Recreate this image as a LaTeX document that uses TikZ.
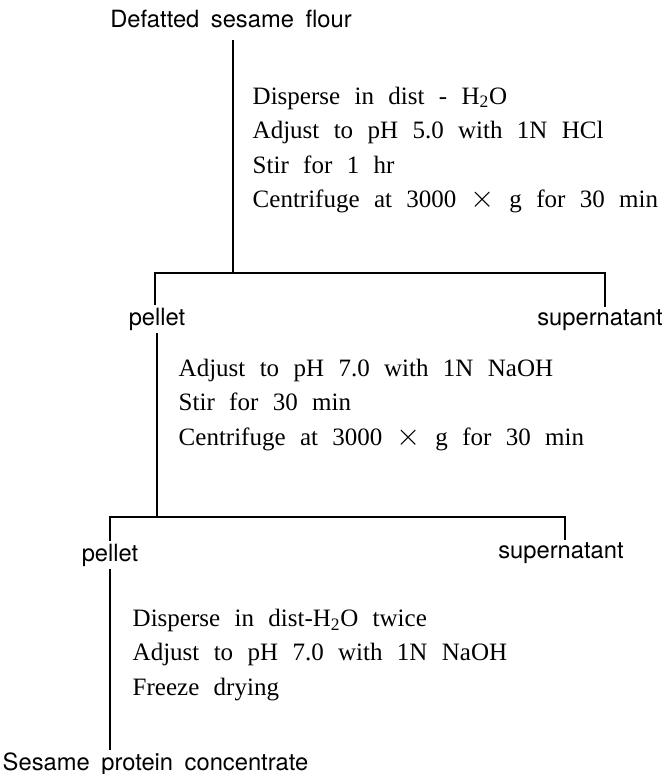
\documentclass[tikz,border=0pt]{standalone}
\usepackage{fontspec}
\setmainfont{Liberation Serif}[WordSpace=2.3]
\newfontfamily\labelfont{TeX Gyre Heros}[WordSpace=1.75]
\usepackage{tikz}
\usetikzlibrary{calc}

\begin{document}
\begin{tikzpicture}[x=0.75pt, y=-0.75pt, line width=1.1pt,
  lbl/.style={font=\labelfont\fontsize{17.8}{20}\selectfont, inner sep=1.5pt},
  steps/.style={font=\fontsize{18.75}{25.9}\selectfont, align=left, anchor=west, inner sep=0pt}]
  \useasboundingbox (0,0) rectangle (666,774);
  % first step
  \node[lbl] (flour) at (231,18.5) {Defatted sesame flour};
  \coordinate (top1) at (233,40);
  \coordinate (split1) at (233,273);
  \coordinate (left1) at (155,273);
  \coordinate (right1) at (605,273);
  \node[steps] (treat1) at (252,150) {Disperse in dist - H\textsubscript{2}O\\Adjust to pH 5.0 with 1N HCl\\Stir for 1 hr\\Centrifuge at 3000 \scalebox{1.35}{$\times$} g for 30 min};
  \node[lbl] (pellet1) at (157,319) {pellet};
  \node[lbl] (supern1) at (600,320) {supernatant};
  \draw (top1) -- (split1);
  \draw (pellet1.north -| left1) -- (left1) -- (right1) -- (supern1.north -| right1);
  % second step
  \coordinate (split2) at (157,517);
  \coordinate (left2) at (110,517);
  \coordinate (right2) at (565,517);
  \node[steps] (treat2) at (178,405) {Adjust to pH 7.0 with 1N NaOH\\Stir for 30 min\\Centrifuge at 3000 \scalebox{1.35}{$\times$} g for 30 min};
  \node[lbl] (pellet2) at (110,555) {pellet};
  \node[lbl] (supern2) at (561,553) {supernatant};
  \draw (pellet1.south) -- (split2);
  \draw (pellet2.north -| left2) -- (left2) -- (right2) -- (supern2.north -| right2);
  % last step
  \node[steps] (treat3) at (132,655) {Disperse in dist-H\textsubscript{2}O twice\\Adjust to pH 7.0 with 1N NaOH\\Freeze drying};
  \node[lbl, anchor=west] (final) at (0,764) {Sesame protein concentrate};
  \draw (pellet2.south) -- (pellet2.south |- final.north);
\end{tikzpicture}
\end{document}
